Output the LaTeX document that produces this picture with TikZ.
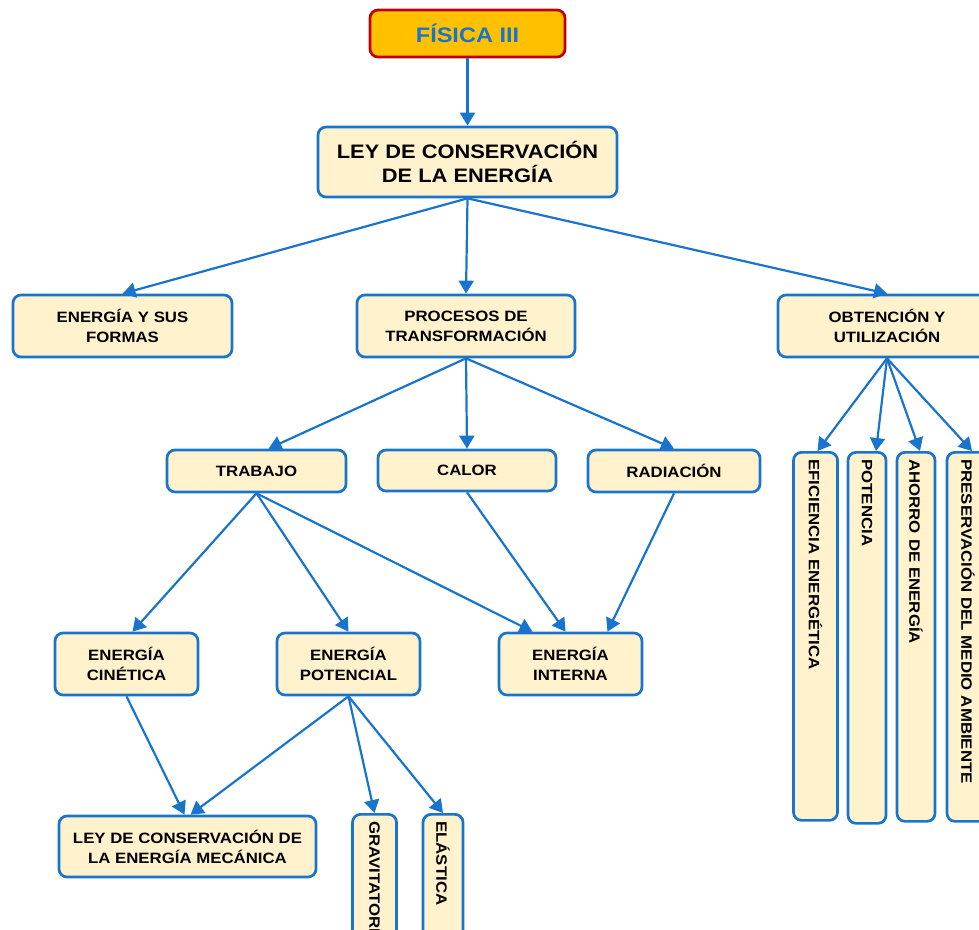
\documentclass[tikz,border=0pt]{standalone}
\usepackage{fontspec}
\setmainfont{Liberation Sans}
\newfontfamily\bxfont[FakeStretch=1.12]{Liberation Sans}
\usetikzlibrary{arrows.meta}
\definecolor{bblue}{HTML}{1874CD}
\definecolor{cream}{HTML}{FFF2CC}
\definecolor{gold}{HTML}{FFC000}
\definecolor{dred}{HTML}{C00000}
\begin{document}
\begin{tikzpicture}[x=1pt,y=-1pt,
  box/.style={draw=bblue, line width=2.7pt, fill=cream, rounded corners=8pt, align=center,
    font=\bxfont\fontsize{15}{20}\selectfont\bfseries, inner sep=0pt},
  vbox/.style={box, rotate=-90, anchor=west, align=left, inner xsep=7pt, inner ysep=0pt},
  conn/.style={draw=bblue, line width=2.2pt, -{Triangle[length=13pt,width=15pt]}}]
\useasboundingbox (0,0) rectangle (979,929);
\clip (0,0) rectangle (979,929);
% top
\node[box, fill=gold, draw=dred, text=bblue, minimum width=195pt, minimum height=47pt,
  font=\bxfont\fontsize{21}{25}\selectfont\bfseries] (fis) at (467.5,33.5) {FÍSICA III};
\node[box, minimum width=299pt, minimum height=70pt,
  font=\bxfont\fontsize{19.5}{24}\selectfont\bfseries] (ley) at (467.5,162) {LEY DE CONSERVACIÓN\\DE LA ENERGÍA};
% level 2
\node[box, minimum width=219pt, minimum height=62pt] (enf) at (122.5,326) {ENERGÍA Y SUS\\FORMAS};
\node[box, minimum width=218pt, minimum height=62pt] (pro) at (466,326) {PROCESOS DE\\TRANSFORMACIÓN};
\node[box, minimum width=218pt, minimum height=62pt] (obt) at (887,326) {OBTENCIÓN Y\\UTILIZACIÓN};
% level 3
\node[box, minimum width=179pt, minimum height=42pt] (tra) at (256.5,471) {TRABAJO};
\node[box, minimum width=178pt, minimum height=41pt] (cal) at (467,470.5) {CALOR};
\node[box, minimum width=172pt, minimum height=42pt] (rad) at (674,471) {RADIACIÓN};
% vertical boxes right
\node[vbox, minimum width=368pt, minimum height=44pt, text width=354pt] (eff) at (815.5,451) {EFICIENCIA ENERGÉTICA};
\node[vbox, minimum width=371pt, minimum height=38pt, text width=357pt] (pte) at (867,451) {POTENCIA};
\node[vbox, minimum width=369pt, minimum height=38pt, text width=355pt] (aho) at (916,451) {AHORRO DE ENERGÍA};
\node[vbox, minimum width=369pt, minimum height=42pt, text width=355pt] (pres) at (968,451) {PRESERVACIÓN DEL MEDIO AMBIENTE};
% level 4
\node[box, minimum width=143pt, minimum height=62pt] (cin) at (126.5,664) {ENERGÍA\\CINÉTICA};
\node[box, minimum width=143pt, minimum height=62pt] (pot) at (348.5,664) {ENERGÍA\\POTENCIAL};
\node[box, minimum width=143pt, minimum height=62pt] (int) at (570.5,664) {ENERGÍA\\INTERNA};
% level 5
\node[box, minimum width=257pt, minimum height=61pt] (mec) at (187.5,846.5) {LEY DE CONSERVACIÓN DE\\LA ENERGÍA MECÁNICA};
\node[vbox, minimum width=160pt, minimum height=44pt, text width=146pt] (grav) at (374.5,813) {GRAVITATORIA};
\node[vbox, minimum width=160pt, minimum height=40pt, text width=146pt] (ela) at (443,813) {ELÁSTICA};
% connectors
\draw[conn] (fis.south) -- (ley.north);
\draw[conn] (ley.south) -- (enf.north);
\draw[conn] (ley.south) -- (pro.north);
\draw[conn] (ley.south) -- (obt.north);
\draw[conn] (pro.south) -- ([xshift=12pt]tra.north);
\draw[conn] (pro.south) -- (cal.north);
\draw[conn] (pro.south) -- (rad.north);
\draw[conn] (obt.south) -- ([xshift=2pt]eff.west);
\draw[conn] (obt.south) -- ([xshift=9pt]pte.west);
\draw[conn] (obt.south) -- ([xshift=4pt]aho.west);
\draw[conn] (obt.south) -- ([xshift=4pt]pres.west);
\draw[conn] (tra.south) -- ([xshift=6pt]cin.north);
\draw[conn] (tra.south) -- (pot.north);
\draw[conn] (tra.south) -- ([xshift=-38pt]int.north);
\draw[conn] (cal.south) -- ([xshift=-5pt]int.north);
\draw[conn] (rad.south) -- ([xshift=37pt]int.north);
\draw[conn] (cin.south) -- ([xshift=-3pt]mec.north);
\draw[conn] (pot.south) -- ([xshift=3pt]mec.north);
\draw[conn] (pot.south) -- (grav.west);
\draw[conn] (pot.south) -- (ela.west);
\end{tikzpicture}
\end{document}
